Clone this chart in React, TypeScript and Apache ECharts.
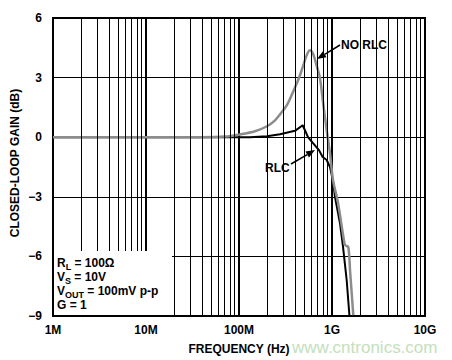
import React, { useEffect, useRef } from "react";
import * as echarts from "echarts";

// Frequencies in Hz, gains in dB
const noRlcFreq = [1e6, 3.81e7, 7.06e7, 1.026e8, 1.486e8, 2.0e8, 2.44e8, 2.76e8, 3.26e8, 3.81e8, 4.53e8, 5.35e8, 5.79e8, 6.25e8, 6.84e8, 7.43e8, 8.0e8, 8.77e8, 9.51e8, 1.026e9, 1.16e9, 1.324e9, 1.38e9, 1.496e9, 1.563e9, 1.694e9];
const noRlcGain = [0, 0, 0.03, 0.14, 0.3, 0.55, 0.85, 1.15, 1.6, 2.28, 3.12, 4.13, 4.38, 4.2, 3.6, 2.96, 1.78, 0.35, -0.8, -2.16, -3.3, -5.0, -5.43, -5.53, -6.7, -8.96];

const rlcFreq = [1e6, 1.31e8, 2.0e8, 2.76e8, 4.0e8, 4.84e8, 5.52e8, 6.25e8, 7.24e8, 7.94e8, 8.77e8, 9.51e8, 1.026e9, 1.076e9, 1.219e9, 1.312e9, 1.439e9, 1.538e9];
const rlcGain = [0, 0, 0.05, 0.15, 0.32, 0.6, 0, -0.3, -0.65, -1.0, -1.15, -1.5, -2.2, -3.0, -4.33, -5.5, -7.2, -8.96];

const xTickLabels = ["1M", "10M", "100M", "1G", "10G"];
const minorMultipliers = [2, 3, 4, 5, 6, 7, 8, 9];
const decades = [1e6, 1e7, 1e8, 1e9];
const yTicks = [-9, -6, -3, 0, 3, 6];

const FONT = "'Liberation Sans', Arial, Helvetica, sans-serif";

function arrow(x1: number, y1: number, x2: number, y2: number) {
  const dx = x2 - x1;
  const dy = y2 - y1;
  const len = Math.sqrt(dx * dx + dy * dy);
  const ux = dx / len;
  const uy = dy / len;
  const hl = 9;
  const hw = 3.5;
  const bx = x2 - ux * hl;
  const by = y2 - uy * hl;
  return [
    {
      type: "line",
      z: 120,
      shape: { x1, y1, x2: bx, y2: by },
      style: { stroke: "#000", lineWidth: 1.5 },
    },
    {
      type: "polygon",
      z: 120,
      shape: {
        points: [
          [x2, y2],
          [bx - uy * hw, by + ux * hw],
          [bx + uy * hw, by - ux * hw],
        ],
      },
      style: { fill: "#000" },
    },
  ];
}

function infoLine(y: number, main: string, sub: string, rest: string) {
  return {
    type: "text",
    z: 110,
    x: 57,
    y,
    style: {
      text: sub ? `{n|${main}}{s|${sub}}{n|${rest}}` : `{n|${main}${rest}}`,
      verticalAlign: "middle",
      rich: {
        n: { fontSize: 12, fontWeight: "bold", fontFamily: FONT, fill: "#000" },
        s: { fontSize: 9, fontWeight: "bold", fontFamily: FONT, fill: "#000", padding: [7, 0, 0, 0] },
      },
    },
  };
}

export default function App() {
  const ref = useRef<HTMLDivElement>(null);
  useEffect(() => {
    document.body.style.margin = "0";
    if (!ref.current) return;
    const chart = echarts.init(ref.current, null, { renderer: "svg" });

    const minorLines: any[] = [];
    decades.forEach((d) => minorMultipliers.forEach((m) => minorLines.push({ xAxis: d * m })));

    chart.setOption({
      animation: false,
      backgroundColor: "#fff",
      grid: {
        left: 53,
        right: 27,
        top: 18,
        bottom: 44,
        show: true,
        borderColor: "#000",
        borderWidth: 2,
        backgroundColor: "transparent",
      },
      xAxis: {
        type: "log",
        logBase: 10,
        min: 1e6,
        max: 1e10,
        axisLine: { show: false },
        axisTick: { show: false },
        splitLine: { show: true, lineStyle: { color: "#000", width: 2 } },
        axisLabel: {
          color: "#000",
          fontSize: 12,
          fontWeight: "bold",
          fontFamily: FONT,
          margin: 8,
          formatter: (v: number) => {
            const i = Math.round(Math.log10(v)) - 6;
            return xTickLabels[i] ?? "";
          },
        },
        name: "FREQUENCY (Hz)",
        nameLocation: "middle",
        nameGap: 27,
        nameTextStyle: { color: "#000", fontSize: 12, fontWeight: "bold", fontFamily: FONT },
      },
      yAxis: {
        type: "value",
        min: -9,
        max: 6,
        interval: 3,
        axisLine: { show: false },
        axisTick: { show: false },
        splitLine: { show: true, lineStyle: { color: "#000", width: 1 } },
        axisLabel: {
          color: "#000",
          fontSize: 12,
          fontWeight: "bold",
          fontFamily: FONT,
          margin: 11,
          formatter: (v: number) => (yTicks.includes(v) ? (v < 0 ? "\u2212" + Math.abs(v) : String(v)) : ""),
        },
      },
      series: [
        {
          type: "line",
          z: 1,
          data: [[1e6, 0]],
          showSymbol: false,
          lineStyle: { width: 0 },
          silent: true,
          markLine: {
            silent: true,
            symbol: "none",
            label: { show: false },
            lineStyle: { color: "#000", width: 1, type: "solid" },
            data: minorLines,
          },
        },
        {
          name: "RLC",
          type: "line",
          z: 3,
          showSymbol: false,
          data: rlcFreq.map((f, i) => [f, rlcGain[i]]),
          lineStyle: { color: "#000", width: 2 },
        },
        {
          name: "NO RLC",
          type: "line",
          z: 4,
          showSymbol: false,
          smooth: 0.3,
          data: noRlcFreq.map((f, i) => [f, noRlcGain[i]]),
          lineStyle: { color: "#8c8c8c", width: 2.5 },
        },
      ],
      graphic: [
        {
          type: "rect",
          z: 100,
          shape: { x: 54, y: 251, width: 118, height: 64 },
          style: { fill: "#fff" },
        },
        infoLine(263, "R", "L", " = 100Ω"),
        infoLine(277, "V", "S", " = 10V"),
        infoLine(291, "V", "OUT", " = 100mV p-p"),
        infoLine(305, "G", "", " = 1"),
        {
          type: "text",
          z: 110,
          x: 15,
          y: 163,
          rotation: Math.PI / 2,
          style: {
            text: "CLOSED-LOOP GAIN (dB)",
            align: "center",
            verticalAlign: "middle",
            fontSize: 12,
            fontWeight: "bold",
            fontFamily: FONT,
            fill: "#000",
          },
        },
        {
          type: "text",
          z: 120,
          x: 341,
          y: 45,
          style: { text: "NO RLC", verticalAlign: "middle", fontSize: 12, fontWeight: "bold", fontFamily: FONT, fill: "#000" },
        },
        {
          type: "text",
          z: 120,
          x: 265,
          y: 168,
          style: { text: "RLC", verticalAlign: "middle", fontSize: 12, fontWeight: "bold", fontFamily: FONT, fill: "#000" },
        },
        ...arrow(340, 45, 317, 59),
        ...arrow(291, 164, 315, 150),
        {
          type: "text",
          z: 90,
          x: 292,
          y: 347,
          style: { text: "www.cntronics.com", verticalAlign: "middle", fontSize: 17, fontFamily: FONT, fill: "#c4e0bc" },
        },
      ],
    });
    return () => chart.dispose();
  }, []);
  return <div ref={ref} style={{ width: 452, height: 360 }} />;
}
